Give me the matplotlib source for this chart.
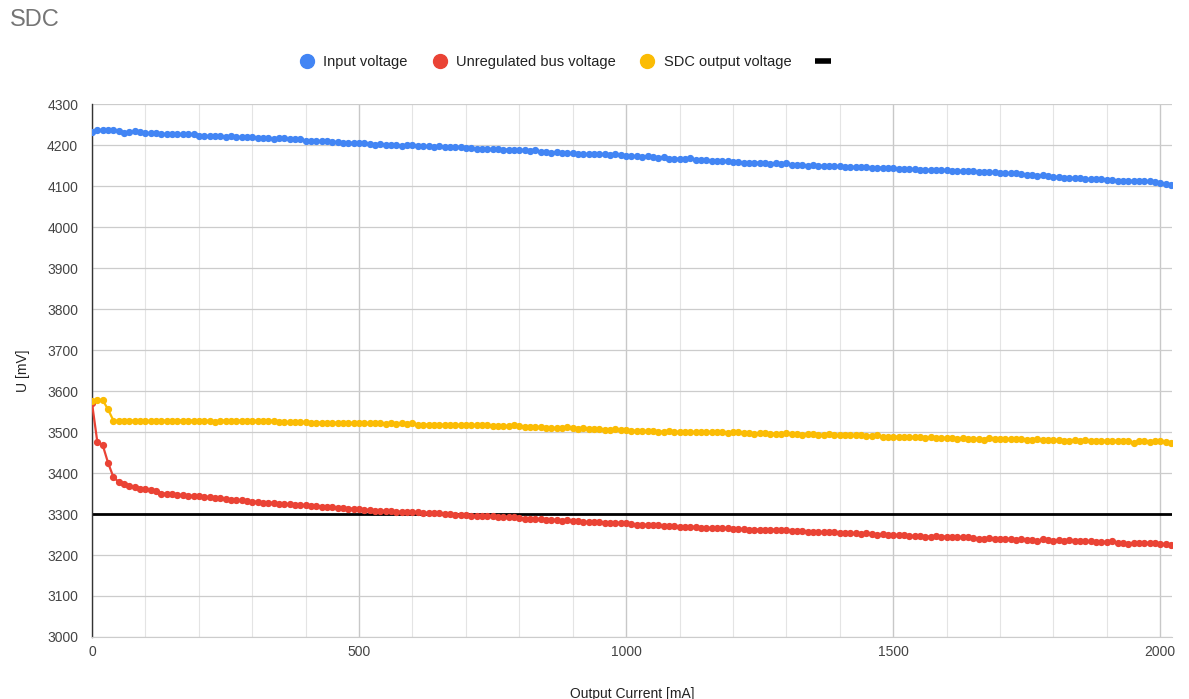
import matplotlib
matplotlib.use("Agg")
import matplotlib.pyplot as plt
from matplotlib.lines import Line2D
from matplotlib.ticker import MultipleLocator

plt.rcParams['font.family'] = ['Liberation Sans', 'DejaVu Sans']

current = list(range(0, 2021, 10))

input_voltage = [
    4232, 4236, 4237, 4236, 4236, 4234, 4230, 4231, 4233, 4231,
    4229, 4229, 4229, 4228, 4226, 4227, 4226, 4227, 4226, 4226,
    4223, 4222, 4222, 4223, 4222, 4220, 4221, 4220, 4219, 4219,
    4220, 4218, 4217, 4216, 4215, 4216, 4216, 4215, 4214, 4215,
    4211, 4210, 4209, 4209, 4210, 4208, 4207, 4206, 4206, 4205,
    4205, 4204, 4203, 4201, 4203, 4200, 4201, 4199, 4198, 4199,
    4199, 4198, 4197, 4197, 4196, 4197, 4195, 4194, 4194, 4194,
    4193, 4192, 4191, 4191, 4190, 4190, 4190, 4189, 4189, 4189,
    4188, 4187, 4186, 4188, 4184, 4182, 4181, 4182, 4180, 4180,
    4180, 4179, 4178, 4178, 4177, 4178, 4177, 4176, 4177, 4175,
    4174, 4173, 4172, 4171, 4173, 4170, 4169, 4170, 4167, 4166,
    4167, 4166, 4168, 4163, 4164, 4163, 4162, 4161, 4162, 4160,
    4158, 4158, 4157, 4156, 4157, 4157, 4156, 4154, 4155, 4154,
    4155, 4152, 4152, 4151, 4150, 4151, 4150, 4149, 4149, 4148,
    4148, 4147, 4147, 4146, 4146, 4146, 4145, 4145, 4145, 4144,
    4143, 4142, 4142, 4141, 4141, 4140, 4140, 4139, 4139, 4138,
    4138, 4137, 4137, 4136, 4136, 4136, 4134, 4134, 4133, 4133,
    4132, 4131, 4131, 4131, 4130, 4128, 4127, 4125, 4126, 4124,
    4121, 4123, 4120, 4119, 4120, 4119, 4118, 4116, 4117, 4118,
    4115, 4114, 4113, 4112, 4113, 4112, 4111, 4111, 4111, 4110,
    4108, 4105, 4103,
]

sdc_output_voltage = [
    3575, 3578, 3578, 3555, 3528, 3527, 3528, 3527, 3528, 3527,
    3527, 3527, 3528, 3528, 3527, 3528, 3528, 3528, 3527, 3528,
    3527, 3526, 3528, 3525, 3527, 3528, 3528, 3527, 3528, 3528,
    3528, 3527, 3528, 3527, 3527, 3525, 3524, 3524, 3524, 3524,
    3524, 3523, 3523, 3523, 3523, 3523, 3522, 3522, 3522, 3522,
    3523, 3522, 3521, 3522, 3521, 3520, 3521, 3520, 3522, 3520,
    3521, 3517, 3518, 3518, 3518, 3517, 3518, 3517, 3517, 3517,
    3516, 3516, 3516, 3516, 3516, 3515, 3515, 3514, 3515, 3516,
    3514, 3513, 3512, 3511, 3513, 3510, 3510, 3509, 3510, 3511,
    3509, 3508, 3509, 3508, 3508, 3507, 3506, 3505, 3507, 3504,
    3506, 3503, 3503, 3503, 3502, 3502, 3501, 3501, 3502, 3501,
    3500, 3500, 3500, 3500, 3499, 3500, 3500, 3499, 3499, 3498,
    3500, 3499, 3498, 3498, 3496, 3497, 3497, 3495, 3496, 3495,
    3497, 3495, 3495, 3493, 3494, 3494, 3493, 3493, 3494, 3492,
    3492, 3492, 3493, 3492, 3493, 3491, 3491, 3492, 3487, 3489,
    3489, 3488, 3488, 3488, 3487, 3487, 3486, 3487, 3486, 3486,
    3485, 3485, 3484, 3485, 3484, 3482, 3484, 3481, 3485, 3483,
    3484, 3483, 3482, 3482, 3482, 3481, 3481, 3482, 3480, 3481,
    3480, 3480, 3479, 3479, 3480, 3479, 3480, 3479, 3479, 3479,
    3478, 3478, 3478, 3477, 3477, 3474, 3477, 3478, 3476, 3477,
    3478, 3475, 3474,
]

unregulated_bus_voltage = [
    3570, 3475, 3468, 3425, 3390, 3378, 3372, 3368, 3365, 3362,
    3360, 3358, 3355, 3350, 3350, 3348, 3347, 3346, 3345, 3344,
    3343, 3342, 3341, 3340, 3338, 3336, 3335, 3334, 3333, 3332,
    3330, 3330, 3328, 3328, 3327, 3325, 3324, 3324, 3322, 3322,
    3321, 3320, 3320, 3318, 3317, 3316, 3315, 3315, 3313, 3313,
    3312, 3310, 3310, 3308, 3308, 3307, 3307, 3306, 3305, 3304,
    3305, 3304, 3302, 3303, 3303, 3302, 3301, 3300, 3298, 3298,
    3297, 3296, 3296, 3296, 3295, 3294, 3293, 3292, 3292, 3292,
    3290, 3289, 3288, 3287, 3287, 3286, 3286, 3285, 3284, 3285,
    3282, 3282, 3280, 3281, 3280, 3280, 3279, 3279, 3279, 3278,
    3277, 3275, 3274, 3273, 3274, 3272, 3272, 3270, 3270, 3270,
    3269, 3268, 3268, 3269, 3267, 3266, 3266, 3265, 3266, 3265,
    3264, 3263, 3263, 3262, 3262, 3262, 3261, 3261, 3262, 3261,
    3260, 3258, 3258, 3259, 3257, 3257, 3256, 3255, 3256, 3255,
    3254, 3254, 3253, 3253, 3252, 3253, 3251, 3250, 3251, 3250,
    3249, 3248, 3248, 3247, 3246, 3247, 3245, 3245, 3246, 3245,
    3245, 3244, 3243, 3244, 3243, 3241, 3240, 3238, 3241, 3240,
    3239, 3238, 3240, 3237, 3238, 3236, 3236, 3235, 3238, 3236,
    3234, 3236, 3235, 3236, 3234, 3233, 3233, 3234, 3232, 3232,
    3232, 3233, 3230, 3229, 3228, 3229, 3230, 3230, 3229, 3229,
    3228, 3226, 3225,
]

limit_voltage = 3300

series_names = ["Input voltage", "Unregulated bus voltage", "SDC output voltage", ""]
colors = ["#4285F4", "#EA4335", "#FBBC04", "#000000"]

fig = plt.figure(figsize=(11.89, 6.99), dpi=100)
ax = fig.add_axes([0.0774, 0.0887, 0.9083, 0.7625])

for vals, c in [(input_voltage, colors[0]), (unregulated_bus_voltage, colors[1]), (sdc_output_voltage, colors[2])]:
    ax.plot(current, vals, color=c, lw=1.6, marker='o', markersize=4.2, zorder=3)

ax.plot(current, [limit_voltage] * len(current), color=colors[3], lw=2.0, zorder=2)

ax.set_xlim(0, 2022)
ax.set_ylim(3000, 4300)
ax.yaxis.set_major_locator(MultipleLocator(100))
ax.xaxis.set_major_locator(MultipleLocator(500))
ax.xaxis.set_minor_locator(MultipleLocator(100))
ax.grid(True, which='major', axis='y', color='#cccccc', lw=0.9)
ax.grid(True, which='major', axis='x', color='#c8c8c8', lw=1.0)
ax.grid(True, which='minor', axis='x', color='#e4e4e4', lw=0.8)
ax.set_axisbelow(True)

for s in ['top', 'right']:
    ax.spines[s].set_visible(False)
ax.spines['bottom'].set_color('#cccccc')
ax.spines['left'].set_color('#333333')
ax.spines['left'].set_linewidth(1.0)
ax.tick_params(axis='both', which='both', length=0, labelsize=10, labelcolor='#444444')
ax.tick_params(axis='x', pad=6)
ax.tick_params(axis='y', pad=10)

ax.set_xlabel("Output Current [mA]", fontsize=10, color='#222222', labelpad=20)
ax.set_ylabel("U [mV]", fontsize=10, color='#222222', labelpad=12)

fig.text(0.008, 0.972, "SDC", fontsize=17, color='#757575', va='center', ha='left')

handles = [Line2D([], [], ls='none', marker='o', markersize=10, color=colors[0]),
           Line2D([], [], ls='none', marker='o', markersize=10, color=colors[1]),
           Line2D([], [], ls='none', marker='o', markersize=10, color=colors[2]),
           Line2D([], [], ls='none', marker='_', markersize=12, markeredgewidth=4, color=colors[3])]
leg = fig.legend(handles, series_names, loc='center', bbox_to_anchor=(0.479, 0.911), ncol=4,
                 frameon=False, fontsize=10.5, handlelength=1.0, handletextpad=0.6, columnspacing=1.7)
for t in leg.get_texts():
    t.set_color('#222222')

fig.savefig("out.png", dpi=100)
